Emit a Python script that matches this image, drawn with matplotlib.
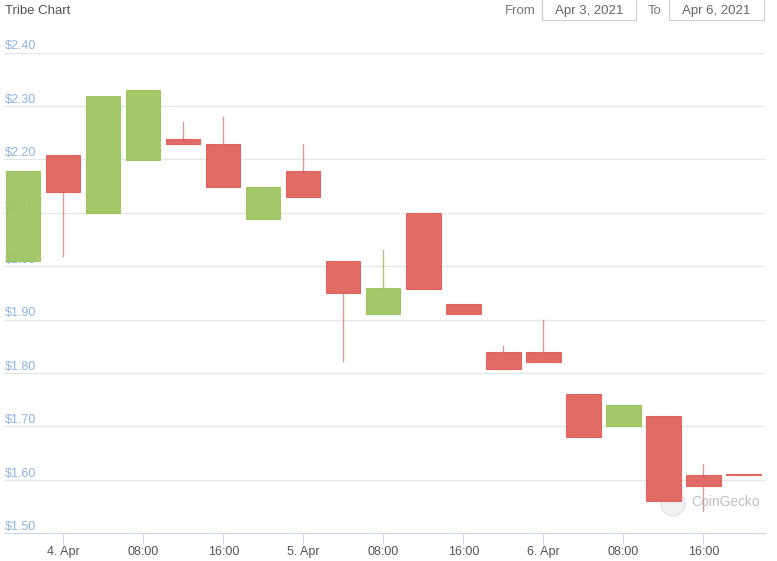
import matplotlib
matplotlib.use("Agg")
import matplotlib.pyplot as plt
import matplotlib.dates as mdates
from matplotlib.patches import Rectangle, Ellipse
import pandas as pd

plt.rcParams["font.family"] = ["Liberation Sans", "DejaVu Sans"]

# 4-hour candles, Apr 3 20:00 -> Apr 6 20:00
times = pd.date_range("2021-04-03 20:00", periods=19, freq="4h")
opens = [2.009, 2.209, 2.100, 2.198, 2.239, 2.228, 2.089, 2.179, 2.009, 1.910,
         2.099, 1.929, 1.839, 1.839, 1.760, 1.700, 1.719, 1.610, 1.610]
highs = [2.179, 2.209, 2.318, 2.329, 2.270, 2.279, 2.149, 2.228, 2.009, 2.030,
         2.099, 1.929, 1.851, 1.899, 1.760, 1.740, 1.719, 1.630, 1.610]
lows = [2.009, 2.019, 2.100, 2.198, 2.228, 2.149, 2.089, 2.129, 1.822, 1.910,
        1.958, 1.910, 1.808, 1.820, 1.680, 1.700, 1.560, 1.541, 1.609]
closes = [2.179, 2.138, 2.318, 2.329, 2.228, 2.149, 2.149, 2.129, 1.949, 1.959,
          1.958, 1.910, 1.808, 1.820, 1.680, 1.740, 1.560, 1.589, 1.609]

y_ticks = [1.5, 1.6, 1.7, 1.8, 1.9, 2.0, 2.1, 2.2, 2.3, 2.4]
x_ticks = pd.date_range("2021-04-04 00:00", periods=9, freq="8h")
x_labels = ["4. Apr", "08:00", "16:00", "5. Apr", "08:00", "16:00", "6. Apr", "08:00", "16:00"]

UP = "#9cc45c"
DOWN = "#e05e58"

fig = plt.figure(figsize=(7.77, 5.61), dpi=100)
ax = fig.add_axes([0.0051, 0.0494, 0.9795, 0.857])

tnum = mdates.date2num(times)
width = 3.44 / 24
for t, o, h, l, c in zip(tnum, opens, highs, lows, closes):
    col = UP if c >= o else DOWN
    wick = "#a9c77f" if c >= o else "#d99a93"
    lo, hi = min(o, c), max(o, c)
    if h > hi:
        ax.plot([t, t], [hi, h], color=wick, lw=1, zorder=3)
    if l < lo:
        ax.plot([t, t], [l, lo], color=wick, lw=1, zorder=3)
    body = max(hi - lo, 0.0015)
    ax.add_patch(Rectangle((t - width / 2, lo), width, body, facecolor=col,
                           edgecolor=col, lw=0.8, alpha=0.92, zorder=4))

x0 = mdates.date2num(pd.Timestamp("2021-04-04 00:00"))
ax.set_xlim(x0 - 5.93 / 24, x0 + 70.17 / 24)
ax.set_ylim(1.5, 2.4)

for v in y_ticks:
    if v > 1.5:
        ax.axhline(v, color="#e6e6e6", lw=1, zorder=1)
    ax.text(x0 - 5.83 / 24, v + 0.0115, f"${v:.2f}", color="#8db3e2",
            fontsize=9, ha="left", va="center", zorder=2)

ax.set_yticks([])
ax.set_xticks(mdates.date2num(x_ticks))
ax.set_xticklabels(x_labels)
ax.tick_params(axis="x", length=8, color="#ccd6eb", labelcolor="#555555",
               labelsize=9, pad=1.5)
for s in ["top", "right", "left"]:
    ax.spines[s].set_visible(False)
ax.spines["bottom"].set_color("#ccd6eb")
ax.set_facecolor("white")

# watermark (below candles)
ax.add_patch(Ellipse((673 / 777, 1 - 504 / 561), 24 / 777, 24 / 561,
                     transform=fig.transFigure, facecolor="#e8e8e8",
                     edgecolor="#d8d8d8", alpha=0.6, zorder=3.5))
ax.text(691 / 777, 1 - 502 / 561, "CoinGecko", color="#bdbdbd", fontsize=9.9,
        ha="left", va="center", zorder=3.6, transform=fig.transFigure)

# header
fig.text(0.006, 0.981, "Tribe Chart", color="#555555", fontsize=9.5,
         ha="left", va="center")
fig.text(0.65, 0.981, "From", color="#777777", fontsize=9.5, ha="left", va="center")
fig.text(0.834, 0.981, "To", color="#777777", fontsize=9.5, ha="left", va="center")
for x0b, x1b, lab in [(542, 636, "Apr 3, 2021"), (669, 764, "Apr 6, 2021")]:
    fig.patches.append(Rectangle((x0b / 777, 1 - 20 / 561), (x1b - x0b) / 777, 0.05,
                                 transform=fig.transFigure, facecolor="white",
                                 edgecolor="#cccccc", lw=0.8))
    fig.text((x0b + x1b) / 2 / 777, 0.981, lab, color="#666666", fontsize=9.5,
             ha="center", va="center")

fig.savefig("out.png", dpi=100)
